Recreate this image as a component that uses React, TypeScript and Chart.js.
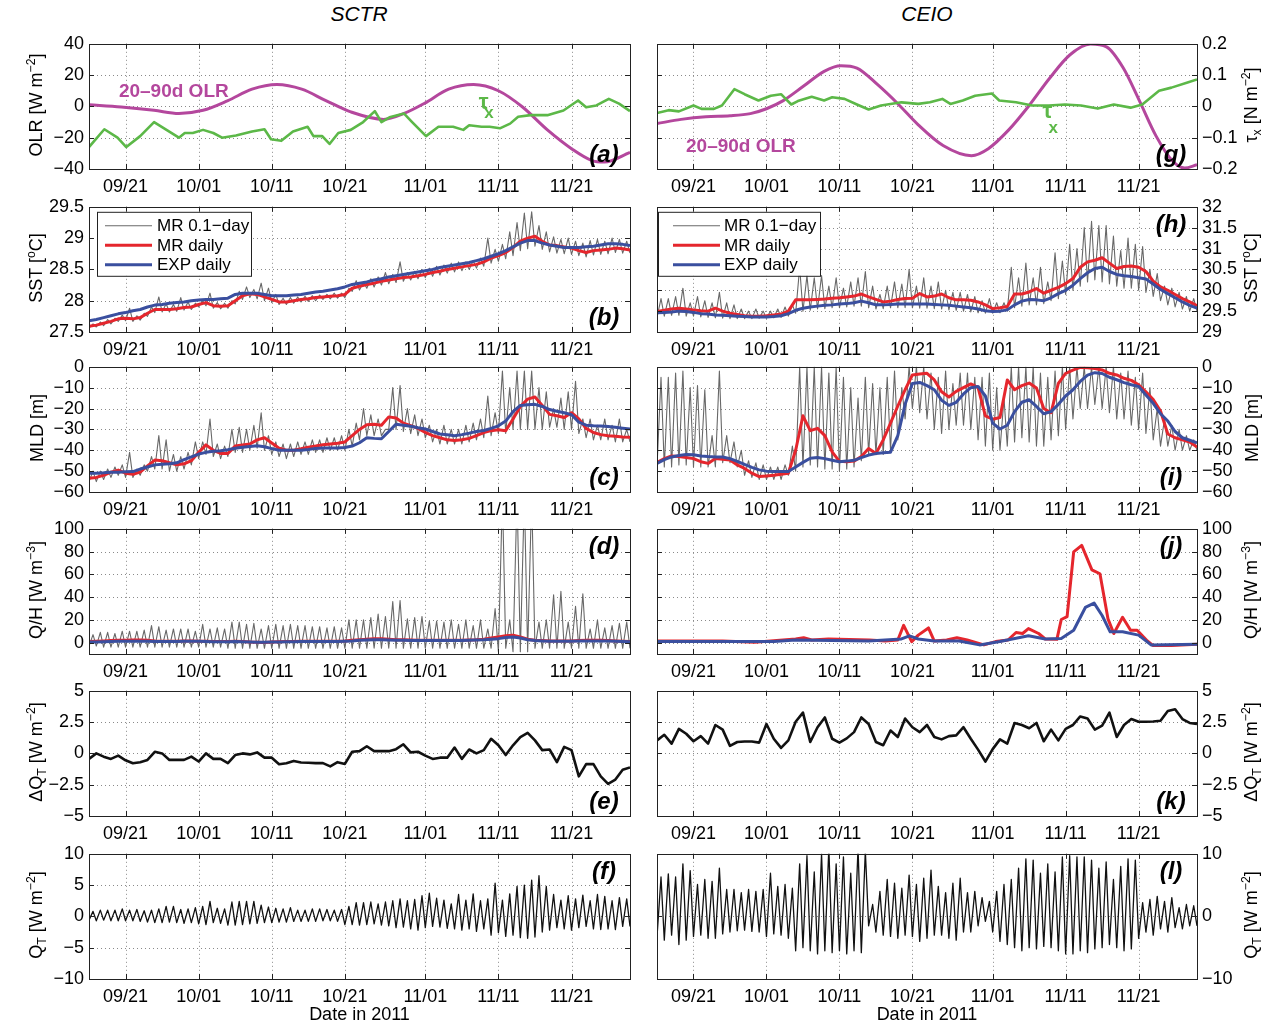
import React, { useEffect, useRef } from 'react';
import { Chart, registerables } from 'chart.js';
Chart.register(...registerables);

const FONT = '"Liberation Sans", Arial, Helvetica, sans-serif';
const RED = '#e5262d';
const BLUE = '#3a4f9f';
const GRAY = '#686868';
const MAGENTA = '#b4479d';
const GREEN = '#5cb848';
const BLACK = '#111111';

const DAY0 = 16;
const DAY1 = 90;
const DATE_TICKS = [21, 31, 41, 51, 62, 72, 82];
const DATE_LABELS = ['09/21', '10/01', '10/11', '10/21', '11/01', '11/11', '11/21'];
const LEGEND_LABELS = ['MR 0.1\u2212day', 'MR daily', 'EXP daily'];

// ---------- (a) SCTR OLR / tau_x ----------
const OLR_A_DAYS = [16, 20.4, 24.9, 28.3, 31.6, 35, 38.3, 41.7, 45.1, 48.4, 51.8, 56.3, 59.1, 61.9, 65.2, 68.6, 72, 75.3, 78.7, 82, 84.8, 86.5, 90];
const OLR_A = [1, -0.4, -2.5, -4.5, -2.5, 3.7, 11, 14, 11, 3.7, -3.5, -8.3, -4.5, 2, 11, 14, 10, -0.4, -15, -27, -34.6, -35.6, -29.4];
const TAU_A_DAYS = [16, 18.1, 19.9, 21.1, 23, 24.9, 26.6, 28.3, 29.1, 30.2, 31.6, 33, 34.2, 36.1, 38.3, 40, 40.9, 42.3, 43.9, 45.9, 46.7, 47.9, 48.9, 50.1, 51.8, 53.5, 55.1, 56, 57.1, 59.1, 60.2, 62.1, 63.8, 65.8, 67.2, 68, 69.7, 70.8, 72.2, 73.6, 74.7, 76.4, 78.7, 80.9, 82.9, 84, 85.4, 87.1, 88.5, 90];
const TAU_A = [-0.13, -0.073, -0.1, -0.13, -0.095, -0.05, -0.075, -0.1, -0.085, -0.085, -0.075, -0.085, -0.1, -0.093, -0.08, -0.073, -0.105, -0.11, -0.08, -0.065, -0.095, -0.095, -0.12, -0.085, -0.075, -0.05, -0.015, -0.05, -0.035, -0.023, -0.05, -0.095, -0.065, -0.065, -0.075, -0.06, -0.065, -0.065, -0.07, -0.055, -0.033, -0.028, -0.028, -0.013, 0.019, -0.003, 0.003, 0.024, 0.009, -0.015];

// ---------- (g) CEIO OLR / tau_x ----------
const OLR_G_DAYS = [16, 19.3, 22.7, 26, 28.8, 31, 33.3, 36.1, 38.9, 41.2, 43.4, 46.2, 49, 51.8, 55.2, 59.1, 61.4, 64.2, 67, 69.8, 72.6, 75.4, 77.6, 79.9, 82.1, 84.4, 86.6, 88.3, 90];
const OLR_G = [-11, -8.3, -6.6, -6, -4.6, -1.5, 3.7, 13, 22.4, 26, 24.5, 14, 1.7, -11.8, -25, -31.5, -27, -15, 0.6, 18, 33, 39.8, 38, 24.5, 3.7, -19, -34.6, -39.4, -37.3];
const TAU_G_DAYS = [16, 17.6, 19, 21, 22.1, 23.8, 24.9, 26.6, 28, 29.9, 31.6, 33, 34.4, 35.3, 37.2, 38.9, 40, 41.7, 43.4, 45, 46.7, 49.5, 51.8, 53.4, 55.1, 56.2, 57.9, 59.6, 61.9, 62.9, 65.2, 67.4, 69.7, 71.9, 74.1, 76.4, 78.6, 80.9, 82.5, 84.8, 86.5, 88.7, 90];
const TAU_G = [-0.021, -0.012, -0.016, 0.003, -0.008, -0.008, 0.003, 0.055, 0.039, 0.019, 0.034, 0.039, 0.006, 0.017, 0.031, 0.019, 0.029, 0.024, 0.006, -0.01, 0.003, 0.013, 0.008, 0.013, 0.024, 0.008, 0.019, 0.034, 0.041, 0.019, 0.013, 0.003, 0.003, 0.006, 0.003, -0.007, 0.006, -0.004, 0.006, 0.05, 0.06, 0.076, 0.086];

// ---------- (b) SCTR SST (daily values from 16 Sep) ----------
const SST_B_MR = [27.59, 27.61, 27.64, 27.67, 27.71, 27.72, 27.71, 27.73, 27.80, 27.86,
  27.86, 27.86, 27.87, 27.89, 27.90, 27.94, 27.97, 27.92, 27.91, 27.92,
  28.00, 28.08, 28.11, 28.10, 28.06, 28.02, 27.98, 27.98, 28.00, 28.02,
  28.03, 28.05, 28.06, 28.07, 28.08, 28.10, 28.20, 28.23, 28.26, 28.28,
  28.31, 28.33, 28.35, 28.37, 28.38, 28.40, 28.42, 28.45, 28.47, 28.50,
  28.52, 28.54, 28.56, 28.58, 28.62, 28.68, 28.72, 28.77, 28.85, 28.95,
  29.00, 29.03, 28.95, 28.89, 28.88, 28.86, 28.84, 28.80, 28.77, 28.80,
  28.81, 28.82, 28.84, 28.83, 28.81];
const SST_B_EXP = [27.68, 27.70, 27.73, 27.76, 27.79, 27.81, 27.84, 27.86, 27.90, 27.93,
  27.94, 27.96, 27.97, 27.98, 28.00, 28.01, 28.02, 28.02, 28.03, 28.04,
  28.10, 28.12, 28.12, 28.12, 28.10, 28.08, 28.08, 28.08, 28.09, 28.10,
  28.12, 28.14, 28.15, 28.17, 28.19, 28.22, 28.26, 28.28, 28.30, 28.33,
  28.35, 28.38, 28.40, 28.42, 28.44, 28.46, 28.48, 28.50, 28.53, 28.55,
  28.57, 28.59, 28.61, 28.64, 28.67, 28.71, 28.75, 28.80, 28.86, 28.92,
  28.96, 28.96, 28.92, 28.89, 28.87, 28.85, 28.85, 28.85, 28.86, 28.87,
  28.89, 28.91, 28.91, 28.90, 28.88];
const SST_B_PEAK = [27.63, 27.66, 27.70, 27.72, 27.77, 27.88, 27.76, 27.80, 27.90, 28.06,
  27.95, 27.94, 28.05, 27.98, 27.96, 28.00, 28.12, 27.97, 27.96, 28.00,
  28.15, 28.22, 28.18, 28.28, 28.20, 28.10, 28.04, 28.05, 28.06, 28.07,
  28.08, 28.09, 28.10, 28.12, 28.12, 28.20, 28.32, 28.30, 28.35, 28.38,
  28.45, 28.42, 28.62, 28.45, 28.47, 28.50, 28.52, 28.55, 28.57, 28.60,
  28.62, 28.62, 28.64, 28.68, 29.00, 28.82, 28.90, 29.10, 29.25, 29.40,
  29.42, 29.20, 29.10, 29.02, 28.98, 29.00, 28.95, 28.92, 28.96, 28.98,
  28.95, 29.00, 28.98, 28.95];
const SST_B_TROUGH = [27.56, 27.58, 27.60, 27.63, 27.67, 27.68, 27.67, 27.69, 27.75, 27.81,
  27.82, 27.82, 27.83, 27.85, 27.86, 27.90, 27.92, 27.88, 27.87, 27.88,
  27.95, 28.02, 28.05, 28.03, 28.00, 27.97, 27.94, 27.94, 27.96, 27.98,
  27.99, 28.00, 28.02, 28.03, 28.04, 28.05, 28.15, 28.17, 28.20, 28.22,
  28.25, 28.27, 28.29, 28.31, 28.33, 28.35, 28.37, 28.39, 28.41, 28.44,
  28.46, 28.48, 28.50, 28.52, 28.55, 28.60, 28.63, 28.67, 28.72, 28.80,
  28.83, 28.87, 28.82, 28.78, 28.76, 28.75, 28.74, 28.72, 28.70, 28.73,
  28.74, 28.75, 28.77, 28.76];

// ---------- (h) CEIO SST ----------
const SST_H_MR = [29.49, 29.52, 29.55, 29.57, 29.55, 29.53, 29.51, 29.50, 29.57, 29.50,
  29.45, 29.42, 29.39, 29.38, 29.38, 29.39, 29.41, 29.43, 29.50, 29.77,
  29.77, 29.77, 29.78, 29.79, 29.81, 29.82, 29.84, 29.86, 29.91, 29.84,
  29.78, 29.72, 29.74, 29.78, 29.80, 29.81, 29.92, 29.84, 29.86, 29.91,
  29.82, 29.77, 29.77, 29.76, 29.72, 29.65, 29.56, 29.58, 29.61, 29.91,
  29.91, 29.96, 30.04, 29.93, 30.00, 30.07, 30.16, 30.28, 30.55, 30.68,
  30.72, 30.78, 30.65, 30.52, 30.57, 30.58, 30.55, 30.45, 30.22, 30.08,
  30.00, 29.90, 29.80, 29.72, 29.63];
const SST_H_EXP = [29.46, 29.47, 29.48, 29.50, 29.49, 29.47, 29.44, 29.43, 29.41, 29.40,
  29.39, 29.38, 29.37, 29.36, 29.36, 29.36, 29.37, 29.39, 29.44, 29.52,
  29.57, 29.60, 29.62, 29.64, 29.65, 29.67, 29.68, 29.70, 29.74, 29.70,
  29.65, 29.65, 29.66, 29.67, 29.67, 29.67, 29.67, 29.67, 29.66, 29.65,
  29.64, 29.62, 29.60, 29.58, 29.55, 29.51, 29.49, 29.50, 29.53, 29.65,
  29.74, 29.78, 29.77, 29.75, 29.82, 29.92, 30.00, 30.12, 30.28, 30.42,
  30.52, 30.55, 30.45, 30.38, 30.35, 30.33, 30.30, 30.27, 30.15, 30.02,
  29.92, 29.82, 29.72, 29.64, 29.57];
const SST_H_PEAK = [29.80, 29.80, 29.85, 30.05, 29.70, 29.85, 29.75, 29.70, 29.95, 29.70,
  29.65, 29.55, 29.50, 29.55, 29.50, 29.50, 29.55, 29.60, 29.65, 30.55,
  30.35, 30.30, 30.35, 30.10, 30.30, 30.05, 30.20, 30.30, 30.45, 30.10,
  29.90, 30.10, 30.20, 30.15, 30.50, 30.10, 30.30, 30.10, 30.20, 30.00,
  29.95, 29.95, 29.90, 29.85, 29.75, 29.80, 29.70, 29.70, 30.55, 30.30,
  30.65, 30.30, 30.55, 30.20, 30.90, 30.70, 31.10, 31.00, 31.50, 31.65,
  31.55, 31.55, 31.30, 30.95, 31.25, 31.10, 31.05, 30.50, 30.40, 30.10,
  30.05, 29.95, 29.85, 29.80];
const SST_H_TROUGH = [29.35, 29.38, 29.40, 29.40, 29.38, 29.38, 29.36, 29.35, 29.34, 29.33,
  29.32, 29.32, 29.32, 29.32, 29.33, 29.33, 29.34, 29.35, 29.38, 29.45,
  29.50, 29.52, 29.55, 29.56, 29.58, 29.58, 29.60, 29.62, 29.62, 29.58,
  29.55, 29.56, 29.58, 29.58, 29.58, 29.58, 29.57, 29.57, 29.56, 29.55,
  29.53, 29.52, 29.50, 29.48, 29.46, 29.45, 29.45, 29.46, 29.50, 29.58,
  29.62, 29.65, 29.65, 29.68, 29.75, 29.80, 29.90, 30.00, 30.10, 30.20,
  30.25, 30.20, 30.15, 30.10, 30.05, 30.05, 30.00, 29.95, 29.85, 29.75,
  29.65, 29.60, 29.55, 29.50];

// ---------- (c) SCTR MLD ----------
const MLD_C_MR = [-53.4, -53, -52, -50.5, -49.5, -51, -51.5, -50.5, -47.5, -44.7,
  -45, -46, -47, -46.5, -45, -41, -37.4, -40, -41.5, -41.5,
  -38, -37.5, -37, -35, -34, -36.5, -39, -40, -40, -39.3,
  -38.5, -38, -37.4, -37, -36.6, -36, -33, -30, -27.8, -27.5,
  -28, -24, -24.5, -27, -28.2, -29.5, -31.4, -33, -34, -35,
  -35.3, -35, -34.3, -33, -31.5, -30.6, -30.2, -30.6, -25, -19,
  -15.5, -14.5, -18.5, -22.8, -23.5, -24.3, -22, -25, -29.5, -31.5,
  -32.5, -33, -33.3, -33.6, -33.8];
const MLD_C_EXP = [-51, -51, -50.8, -50.5, -50.5, -50.3, -50.2, -49, -48, -47,
  -46.7, -46.5, -46, -44.5, -43.2, -41.8, -41, -40.5, -40.2, -39.7,
  -39, -38.6, -38.2, -37.8, -38.3, -39.2, -40, -40, -40, -40,
  -39.6, -39.1, -38.9, -38.9, -38.9, -38.7, -38, -36.4, -34, -34.3,
  -34.5, -31, -27.5, -28, -28.5, -29.2, -29.8, -31, -32.2, -32.6,
  -33, -32.5, -31.8, -31, -30.5, -29.5, -28.3, -26, -21.5, -18.5,
  -18.2, -18, -19, -20.5, -21.3, -22, -23, -26.5, -28, -28.3,
  -28.4, -28.6, -29, -29.4, -29.8];
const MLD_C_PEAK = [-50, -50, -49, -48, -47, -41, -49, -47, -43, -33,
  -35, -42, -43, -41, -36, -36, -25, -37, -38, -30,
  -29, -30, -28, -22, -33, -36, -37, -37, -36, -36,
  -35, -35, -34, -34, -33, -30, -27, -20, -23, -25,
  -30, -10, -9, -20, -23, -25, -28, -30, -28, -30,
  -30, -28, -27, -25, -14, -22, -2, -10, -2, -2,
  -2, -10, -12, -20, -15, -12, -7, -25, -25, -28,
  -25, -28, -25, -30];
const MLD_C_TROUGH = [-55, -55, -54, -53, -52, -53, -53, -52, -50, -49,
  -49, -50, -50, -49, -47, -44, -42, -43, -44, -43,
  -41, -41, -40, -39, -40, -42, -43, -44, -43, -42,
  -42, -41, -41, -40, -40, -40, -38, -35, -33, -33,
  -33, -30, -30, -31, -32, -33, -34, -36, -37, -37,
  -37, -37, -36, -35, -34, -33, -32, -32, -30, -30,
  -30, -30, -30, -29, -29, -30, -30, -32, -34, -35,
  -35, -35, -36, -36];

// ---------- (i) CEIO MLD ----------
const MLD_I_MR = [-45.8, -44, -42.7, -43, -43.5, -44, -45.5, -46.3, -44, -44.3,
  -44.7, -47, -48.7, -51, -52.6, -52.3, -52, -51.5, -51, -40,
  -23.5, -30.6, -29.5, -33, -40.8, -45.3, -45.5, -45.2, -43, -39.2,
  -41.6, -35, -27, -18.8, -11, -3.9, -3.5, -3.1, -6.3, -12,
  -14.5, -11.8, -10, -8.2, -10, -23.5, -25.1, -24.3, -6.3, -11,
  -9, -7.8, -10.2, -20, -22, -8, -3.1, -1.6, -0.3, -0.5,
  -0.8, -1.5, -3.1, -3.9, -5.5, -6.5, -8.6, -12, -15.7, -21.2,
  -32.2, -34, -35, -36.1, -38.5];
const MLD_I_EXP = [-46.3, -44.5, -43.2, -42.5, -42, -42.2, -42.7, -43, -43.2, -43.2,
  -44, -45.3, -46.8, -48.2, -49.4, -50, -50.2, -50.2, -50.2, -48,
  -45.8, -43.8, -43.5, -44, -44.8, -45.5, -45.2, -44.8, -43.5, -42.3,
  -41.6, -41.2, -40.9, -33, -18, -8, -7.5, -9, -11, -16,
  -18.5, -17, -13, -10, -9.4, -14, -27, -29.8, -28, -21.5,
  -17, -15.8, -19, -22.5, -21.5, -18, -14, -11, -7, -4,
  -2.8, -3.2, -5, -6.2, -7.6, -8.6, -9.4, -13.5, -17.5, -22.5,
  -26, -31, -34, -35.2, -36.4];
const MLD_I_PEAK = [-5, -5, -3, -2, -10, -9, -11, -33, -2, -33,
  -36, -40, -45, -46, -47, -48, -48, -47, -38, 0,
  0, 0, 0, -3, 0, -5, -10, -15, -5, -8,
  -10, -5, -2, -10, 0, 0, 0, -3, -5, -2,
  -8, -3, -3, -5, -5, -3, -10, -15, 0, 0,
  0, 0, -3, -5, -2, 0, 0, 0, 0, 0,
  0, 0, 0, -3, -2, -5, -3, -10, -20, -25,
  -28, -30, -33, -35];
const MLD_I_TROUGH = [-48, -48, -48, -47, -47, -48, -48, -48, -48, -46,
  -46, -48, -52, -53, -54, -54, -54, -54, -52, -50,
  -48, -47, -48, -49, -49, -50, -49, -48, -45, -42,
  -42, -42, -40, -35, -25, -20, -22, -25, -30, -32,
  -30, -28, -28, -30, -35, -38, -40, -40, -38, -36,
  -34, -36, -38, -38, -35, -33, -30, -25, -20, -20,
  -18, -20, -22, -25, -25, -28, -30, -32, -35, -38,
  -38, -40, -40, -40];

// ---------- (d) SCTR Q/H ----------
const QH_D_MR = [1, 1.2, 1.5, 1.8, 2, 2, 2.2, 2.4, 2, 1.5,
  1.2, 1.2, 1.3, 1.5, 1.5, 1.3, 1.2, 1, 1, 1,
  1.2, 1, 0.5, 0.3, 0.2, 0.5, 0.8, 1, 1, 1.2,
  1.3, 1.3, 1.2, 1.2, 1.2, 1.5, 2, 2.5, 3, 3.5,
  3.5, 3, 2.5, 2.5, 2.2, 2, 2, 2, 2, 2,
  2, 2, 2.2, 2.5, 3, 4, 5, 6, 6.5, 5,
  3, 2, 1.8, 1.5, 1.5, 1.5, 1.5, 1.8, 2, 2,
  2, 1.8, 1.5, 1.2, 1];
const QH_D_EXP = [0.5, 0.6, 0.8, 1, 1.2, 1.3, 1.3, 1.3, 1.2, 1,
  1, 1, 1, 1.1, 1.2, 1.1, 1, 0.8, 0.8, 0.8,
  0.9, 0.8, 0.5, 0.3, 0.3, 0.5, 0.6, 0.8, 0.8, 1,
  1, 1, 1, 1, 1, 1.2, 1.5, 2, 2.2, 2.5,
  2.5, 2.2, 2, 2, 1.8, 1.8, 1.8, 1.8, 1.8, 1.8,
  1.8, 1.8, 2, 2.2, 2.5, 3, 3.5, 4.5, 5, 4,
  2.5, 1.8, 1.5, 1.3, 1.3, 1.3, 1.3, 1.5, 1.5, 1.5,
  1.5, 1.5, 1.3, 1, 0.8];
const QH_D_PEAK = [7, 9, 9, 8, 10, 10, 10, 11, 15, 14,
  11, 12, 12, 12, 10, 16, 12, 13, 12, 18,
  18, 16, 17, 12, 15, 16, 15, 16, 15, 15,
  14, 14, 13, 14, 13, 20, 20, 20, 22, 25,
  23, 36, 37, 21, 22, 23, 19, 19, 18, 20,
  16, 20, 15, 20, 12, 30, 130, 20, 130, 130,
  130, 18, 20, 42, 45, 18, 32, 43, 12, 20,
  13, 15, 17, 18];
const QH_D_TROUGH = [-3, -3, -4, -4, -4, -4, -4, -4, -4, -4,
  -4, -4, -4, -4, -4, -4, -4, -4, -4, -5,
  -5, -5, -5, -5, -5, -5, -5, -5, -5, -5,
  -5, -5, -5, -5, -5, -5, -5, -5, -5, -5,
  -5, -5, -5, -5, -5, -5, -5, -5, -5, -5,
  -5, -5, -5, -5, -5, -5, -8, -5, -8, -8,
  -8, -5, -5, -5, -5, -5, -5, -5, -5, -5,
  -5, -5, -5, -5];

// ---------- (j) CEIO Q/H ----------
const QH_J_MR_DAYS = [16, 25, 29.4, 35, 36.1, 37.2, 39.5, 45.1, 47.3, 49, 49.8, 50.9, 51.8, 53.2, 54, 55.7, 57.1, 58.5, 60.8, 62.4, 64.1, 65.2, 66.1, 66.9, 68.3, 69.2, 70.8, 71.4, 72.2, 73.1, 74.2, 75.6, 76.7, 77.8, 78.6, 79.8, 80.9, 81.8, 83.2, 84, 86.5, 90];
const QH_J_MR = [1.4, 1.4, 0.3, 3.2, 4.3, 2.3, 3.2, 2.3, 1.4, 2.3, 15.2, 0.9, 6.6, 12.9, 1.4, 2.3, 4.3, 2.3, -2, 0.9, 2.3, 8.9, 8, 12.3, 8, 3.2, 2.9, 20.3, 22.9, 79.7, 85.4, 63.9, 60.5, 20.9, 8, 22.3, 10.9, 10.9, 1.4, -2.6, -2.6, -1.4];
const QH_J_EXP_DAYS = [16, 32, 35, 45, 49.5, 50.6, 51.8, 54, 57.4, 60.2, 63, 66.9, 69.2, 71.4, 73.1, 74.7, 75.9, 77, 78.1, 79.8, 82, 83.7, 90];
const QH_J_EXP = [0.9, 0.9, 2.3, 1.4, 3.2, 6, 3.2, 1.4, 1.4, -2, 0.9, 6, 3.2, 3.7, 10.9, 30.9, 34.7, 23.8, 9.5, 9.5, 6.6, -2, -1.4];

// ---------- (e), (k) delta Q_T (daily) ----------
const DQ_E = [-0.44, 0, -0.26, -0.44, -0.18, -0.55, -0.78, -0.7, -0.52, 0.13,
  0, -0.52, -0.52, -0.52, -0.26, -0.65, 0, -0.44, -0.44, -0.78,
  -0.13, 0, -0.08, 0.08, -0.34, -0.34, -0.86, -0.78, -0.6, -0.73,
  -0.75, -0.78, -0.78, -1.04, -0.7, -0.84, 0.13, 0.18, 0.57, 0.18,
  0.18, 0.18, 0.34, 0.73, 0.08, 0.13, -0.18, -0.44, -0.34, -0.34,
  0.47, -0.44, 0.31, 0, 0.26, 1.17, 0.65, -0.13, 0.65, 1.3,
  1.64, 1.04, 0.26, 0.31, -0.7, 0.52, 0.26, -1.83, -0.86, -0.86,
  -1.83, -2.43, -2.09, -1.3, -1.12];
const DQ_K = [1.04, 1.49, 0.78, 1.96, 1.57, 0.97, 1.38, 0.78, 2.27, 1.9,
  0.6, 0.91, 0.95, 0.95, 0.86, 2.35, 1.17, 0.44, 1.04, 2.53,
  3.26, 0.91, 2.09, 2.87, 1.17, 0.86, 1.2, 1.7, 2.87, 2.35,
  0.91, 0.65, 1.83, 1.31, 2.79, 2.09, 1.7, 2.27, 1.31, 1.12,
  1.38, 1.44, 2.09, 1.17, 0.3, -0.65, 0.34, 1.12, 0.78, 2.43,
  2.27, 2.01, 2.43, 0.97, 1.9, 1.04, 1.96, 2.27, 2.95, 2.79,
  1.9, 2.22, 3.26, 1.31, 2.27, 2.74, 2.53, 2.53, 2.55, 2.61,
  3.39, 3.52, 2.74, 2.43, 2.35];

// ---------- (f), (l) Q_T diurnal extremes ----------
const QT_F_PEAK = [0.8, 1.0, 1.0, 1.0, 1.2, 1.0, 1.1, 0.9, 1.0, 1.2,
  1.6, 1.6, 1.1, 1.2, 1.4, 1.6, 2.4, 1.3, 1.2, 2.3,
  2.4, 2.4, 2.4, 1.8, 1.5, 1.3, 1.2, 1.4, 1.0, 1.0,
  1.2, 1.2, 1.1, 1.0, 1.1, 1.6, 2.2, 2.2, 2.3, 2.0,
  2.3, 2.5, 2.8, 2.5, 2.7, 3.3, 3.7, 2.9, 2.6, 2.0,
  3.5, 2.6, 3.6, 2.5, 2.8, 5.3, 2.6, 3.6, 4.8, 5.0,
  5.8, 6.5, 4.8, 3.5, 2.6, 3.3, 2.8, 3.4, 2.5, 3.5,
  3.2, 2.5, 3.0, 2.8];
const QT_F_TROUGH = [-0.6, -0.7, -0.6, -0.7, -0.7, -0.7, -0.7, -0.8, -0.9, -1.0,
  -1.0, -0.9, -1.0, -1.1, -1.0, -1.2, -1.3, -1.0, -1.1, -1.4,
  -1.4, -1.3, -1.2, -1.1, -1.0, -1.0, -0.9, -0.9, -0.8, -0.8,
  -0.8, -0.8, -0.7, -0.7, -0.8, -1.3, -1.3, -1.4, -1.3, -1.2,
  -1.4, -1.5, -1.8, -1.7, -2.0, -2.2, -1.8, -1.6, -1.7, -1.9,
  -2.0, -2.2, -2.0, -2.4, -2.0, -3.0, -2.6, -3.2, -3.0, -3.4,
  -3.5, -3.3, -2.5, -2.2, -1.8, -2.0, -2.2, -1.8, -1.6, -2.0,
  -2.1, -2.0, -2.1, -1.6];
const QT_L_PEAK = [6.3, 6.8, 6.3, 8.4, 7.3, 5.1, 5.9, 5.6, 7.7, 4.3,
  4.3, 3.8, 4.3, 4.0, 4.3, 6.9, 4.8, 5.1, 4.5, 8.4,
  9.7, 7.1, 10.0, 11, 8.4, 9.5, 6.9, 11, 10.5, 1.9,
  4.0, 5.9, 5.3, 4.5, 6.6, 5.1, 6.1, 7.4, 4.8, 3.8,
  5.3, 6.1, 3.8, 4.0, 3.0, 2.4, 4.0, 5.1, 5.9, 7.7,
  9.2, 9.0, 6.9, 8.4, 7.1, 9.5, 9.7, 9.5, 9.5, 9.0,
  7.7, 8.7, 5.9, 8.0, 9.2, 9.0, 2.2, 2.7, 3.2, 2.4,
  3.0, 1.4, 1.9, 1.7];
const QT_L_TROUGH = [-3.3, -3.8, -3.0, -4.5, -3.8, -3.2, -3.0, -3.5, -3.5, -2.8,
  -2.5, -2.3, -2.2, -2.4, -2.5, -3.2, -2.8, -3.0, -3.5, -5.5,
  -5.0, -5.5, -6.0, -5.5, -5.8, -5.5, -6.0, -5.5, -5.8, -1.5,
  -2.5, -3.0, -3.2, -3.5, -3.0, -3.2, -4.0, -3.5, -3.0, -3.0,
  -3.5, -3.8, -2.5, -2.5, -1.5, -0.8, -2.5, -4.0, -4.5, -5.0,
  -5.5, -5.0, -5.2, -4.8, -5.0, -5.5, -6.0, -6.0, -5.5, -5.8,
  -5.2, -5.0, -4.5, -5.0, -5.5, -5.2, -3.5, -2.5, -3.0, -2.0,
  -2.5, -1.8, -2.0, -1.5];

// ---------- tick values ----------
const OLR_TICKS = [-40, -20, 0, 20, 40];
const TAU_TICKS = [-0.2, -0.1, 0, 0.1, 0.2];
const SST_B_TICKS = [27.5, 28, 28.5, 29, 29.5];
const SST_H_TICKS = [29, 29.5, 30, 30.5, 31, 31.5, 32];
const MLD_TICKS = [-60, -50, -40, -30, -20, -10, 0];
const QH_TICKS = [0, 20, 40, 60, 80, 100];
const DQ_TICKS = [-5, -2.5, 0, 2.5, 5];
const QT_F_TICKS = [-10, -5, 0, 5, 10];
const QT_L_TICKS = [-10, 0, 10];

// ---------- helpers ----------
type Pt = { x: number; y: number };
const pts = (days: number[], vals: number[]): Pt[] => vals.map((v, i) => ({ x: days[i], y: v }));
const daily = (vals: number[]): Pt[] => vals.map((v, i) => ({ x: DAY0 + i, y: v }));
const diurnal = (peaks: number[], troughs: number[]): Pt[] => {
  const out: Pt[] = [];
  for (let i = 0; i < peaks.length; i++) {
    out.push({ x: DAY0 + i, y: troughs[i] });
    out.push({ x: DAY0 + i + 0.55, y: peaks[i] });
  }
  out.push({ x: DAY1, y: troughs[troughs.length - 1] });
  return out;
};
const fmt = (v: number) => (v < 0 ? '\u2212' : '') + String(Math.abs(Math.round(v * 1000) / 1000));

type Series = { data: Pt[]; color: string; width: number; axis?: string; smooth?: boolean; order: number };
type Note = { text: string; x: number; y: number; color: string; font: string };
type Axis = { min: number; max: number; ticks: number[]; show: boolean };
type Panel = {
  key: string; col: 0 | 1; row: number; axes: Record<string, Axis>; gridAxis: string;
  series: Series[]; letter: string; letterPos: 'tr' | 'br'; notes?: Note[]; legend?: boolean; title: React.ReactNode;
};

const PANEL_TOPS = [40, 203, 363, 525, 687, 850];
const PANEL_H = 129;
const PAD_TOP = 12;
const X_AXIS_H = 30;

const Sup = ({ children }: { children: React.ReactNode }) => (
  <span style={{ fontSize: '0.68em', position: 'relative', top: '-0.55em' }}>{children}</span>
);
const Sub = ({ children }: { children: React.ReactNode }) => (
  <span style={{ fontSize: '0.68em', position: 'relative', top: '0.3em' }}>{children}</span>
);

const diurnalSet = (peaks: number[], troughs: number[]): Series => ({ data: diurnal(peaks, troughs), color: GRAY, width: 1.1, order: 3 });
const redSet = (d: Pt[]): Series => ({ data: d, color: RED, width: 3, order: 2 });
const blueSet = (d: Pt[]): Series => ({ data: d, color: BLUE, width: 3, order: 1 });

const BOLD18 = `bold 19px ${FONT}`;
const TAU_FONT = `bold 22px ${FONT}`;
const SUBX_FONT = `bold 17px ${FONT}`;

const PANELS: Panel[] = [
  {
    key: 'a', col: 0, row: 0, gridAxis: 'y',
    axes: { y: { min: -40, max: 40, ticks: OLR_TICKS, show: true }, y2: { min: -0.2, max: 0.2, ticks: TAU_TICKS, show: false } },
    series: [
      { data: pts(TAU_A_DAYS, TAU_A), color: GREEN, width: 2.6, axis: 'y2', order: 1 },
      { data: pts(OLR_A_DAYS, OLR_A), color: MAGENTA, width: 3, smooth: true, order: 2 },
    ],
    letter: '(a)', letterPos: 'br',
    notes: [
      { text: '20\u201390d OLR', x: 27.6, y: 9.4, color: MAGENTA, font: BOLD18 },
      { text: '\u03c4', x: 70.0, y: 2.5, color: GREEN, font: TAU_FONT },
      { text: 'x', x: 70.7, y: -4.5, color: GREEN, font: SUBX_FONT },
    ],
    title: <>OLR [W m<Sup>{'\u2212'}2</Sup>]</>,
  },
  {
    key: 'g', col: 1, row: 0, gridAxis: 'y2',
    axes: { y: { min: -40, max: 40, ticks: OLR_TICKS, show: false }, y2: { min: -0.2, max: 0.2, ticks: TAU_TICKS, show: true } },
    series: [
      { data: pts(TAU_G_DAYS, TAU_G), color: GREEN, width: 2.6, axis: 'y2', order: 1 },
      { data: pts(OLR_G_DAYS, OLR_G), color: MAGENTA, width: 3, smooth: true, order: 2 },
    ],
    letter: '(g)', letterPos: 'br',
    notes: [
      { text: '20\u201390d OLR', x: 27.5, y: -25.6, color: MAGENTA, font: BOLD18 },
      { text: '\u03c4', x: 69.5, y: -3.8, color: GREEN, font: TAU_FONT },
      { text: 'x', x: 70.3, y: -13.8, color: GREEN, font: SUBX_FONT },
    ],
    title: <>{'\u03c4'}<Sub>x</Sub> [N m<Sup>{'\u2212'}2</Sup>]</>,
  },
  {
    key: 'b', col: 0, row: 1, gridAxis: 'y',
    axes: { y: { min: 27.5, max: 29.5, ticks: SST_B_TICKS, show: true } },
    series: [diurnalSet(SST_B_PEAK, SST_B_TROUGH), redSet(daily(SST_B_MR)), blueSet(daily(SST_B_EXP))],
    letter: '(b)', letterPos: 'br', legend: true,
    title: <>SST [<Sup>o</Sup>C]</>,
  },
  {
    key: 'h', col: 1, row: 1, gridAxis: 'y',
    axes: { y: { min: 29, max: 32, ticks: SST_H_TICKS, show: true } },
    series: [diurnalSet(SST_H_PEAK, SST_H_TROUGH), redSet(daily(SST_H_MR)), blueSet(daily(SST_H_EXP))],
    letter: '(h)', letterPos: 'tr', legend: true,
    title: <>SST [<Sup>o</Sup>C]</>,
  },
  {
    key: 'c', col: 0, row: 2, gridAxis: 'y',
    axes: { y: { min: -60, max: 0, ticks: MLD_TICKS, show: true } },
    series: [diurnalSet(MLD_C_PEAK, MLD_C_TROUGH), redSet(daily(MLD_C_MR)), blueSet(daily(MLD_C_EXP))],
    letter: '(c)', letterPos: 'br',
    title: <>MLD [m]</>,
  },
  {
    key: 'i', col: 1, row: 2, gridAxis: 'y',
    axes: { y: { min: -60, max: 0, ticks: MLD_TICKS, show: true } },
    series: [diurnalSet(MLD_I_PEAK, MLD_I_TROUGH), redSet(daily(MLD_I_MR)), blueSet(daily(MLD_I_EXP))],
    letter: '(i)', letterPos: 'br',
    title: <>MLD [m]</>,
  },
  {
    key: 'd', col: 0, row: 3, gridAxis: 'y',
    axes: { y: { min: -10, max: 100, ticks: QH_TICKS, show: true } },
    series: [diurnalSet(QH_D_PEAK, QH_D_TROUGH), redSet(daily(QH_D_MR)), blueSet(daily(QH_D_EXP))],
    letter: '(d)', letterPos: 'tr',
    title: <>Q/H [W m<Sup>{'\u2212'}3</Sup>]</>,
  },
  {
    key: 'j', col: 1, row: 3, gridAxis: 'y',
    axes: { y: { min: -10, max: 100, ticks: QH_TICKS, show: true } },
    series: [redSet(pts(QH_J_MR_DAYS, QH_J_MR)), blueSet(pts(QH_J_EXP_DAYS, QH_J_EXP))],
    letter: '(j)', letterPos: 'tr',
    title: <>Q/H [W m<Sup>{'\u2212'}3</Sup>]</>,
  },
  {
    key: 'e', col: 0, row: 4, gridAxis: 'y',
    axes: { y: { min: -5, max: 5, ticks: DQ_TICKS, show: true } },
    series: [{ data: daily(DQ_E), color: BLACK, width: 2.6, order: 1 }],
    letter: '(e)', letterPos: 'br',
    title: <>{'\u0394'}Q<Sub>T</Sub> [W m<Sup>{'\u2212'}2</Sup>]</>,
  },
  {
    key: 'k', col: 1, row: 4, gridAxis: 'y',
    axes: { y: { min: -5, max: 5, ticks: DQ_TICKS, show: true } },
    series: [{ data: daily(DQ_K), color: BLACK, width: 2.6, order: 1 }],
    letter: '(k)', letterPos: 'br',
    title: <>{'\u0394'}Q<Sub>T</Sub> [W m<Sup>{'\u2212'}2</Sup>]</>,
  },
  {
    key: 'f', col: 0, row: 5, gridAxis: 'y',
    axes: { y: { min: -10, max: 10, ticks: QT_F_TICKS, show: true } },
    series: [{ data: diurnal(QT_F_PEAK, QT_F_TROUGH), color: BLACK, width: 1.3, order: 1 }],
    letter: '(f)', letterPos: 'tr',
    title: <>Q<Sub>T</Sub> [W m<Sup>{'\u2212'}2</Sup>]</>,
  },
  {
    key: 'l', col: 1, row: 5, gridAxis: 'y',
    axes: { y: { min: -10, max: 10, ticks: QT_L_TICKS, show: true } },
    series: [{ data: diurnal(QT_L_PEAK, QT_L_TROUGH), color: BLACK, width: 1.3, order: 1 }],
    letter: '(l)', letterPos: 'tr',
    title: <>Q<Sub>T</Sub> [W m<Sup>{'\u2212'}2</Sup>]</>,
  },
];

function makeDecor(p: Panel) {
  return {
    id: 'decor_' + p.key,
    beforeDatasetsDraw(chart: any) {
      const { ctx, chartArea: a } = chart;
      const xs = chart.scales.x;
      const ys = chart.scales[p.gridAxis];
      const ax = p.axes[p.gridAxis];
      ctx.save();
      ctx.strokeStyle = '#8a8a8a';
      ctx.lineWidth = 1;
      ctx.setLineDash([1, 3]);
      ctx.beginPath();
      for (const d of DATE_TICKS) {
        const px = Math.round(xs.getPixelForValue(d)) + 0.5;
        ctx.moveTo(px, a.top);
        ctx.lineTo(px, a.bottom);
      }
      for (const v of ax.ticks) {
        if (v <= ax.min || v >= ax.max) continue;
        const py = Math.round(ys.getPixelForValue(v)) + 0.5;
        ctx.moveTo(a.left, py);
        ctx.lineTo(a.right, py);
      }
      ctx.stroke();
      ctx.restore();
    },
    afterDatasetsDraw(chart: any) {
      const { ctx, chartArea: a } = chart;
      const xs = chart.scales.x;
      const ys = chart.scales[p.gridAxis];
      const ax = p.axes[p.gridAxis];
      ctx.save();
      ctx.strokeStyle = '#222';
      ctx.lineWidth = 1;
      ctx.setLineDash([]);
      ctx.strokeRect(Math.round(a.left) + 0.5, Math.round(a.top) + 0.5, Math.round(a.right - a.left), Math.round(a.bottom - a.top));
      ctx.beginPath();
      for (const d of DATE_TICKS) {
        const px = Math.round(xs.getPixelForValue(d)) + 0.5;
        ctx.moveTo(px, a.top); ctx.lineTo(px, a.top + 5);
        ctx.moveTo(px, a.bottom); ctx.lineTo(px, a.bottom - 5);
      }
      for (const v of ax.ticks) {
        if (v <= ax.min || v >= ax.max) continue;
        const py = Math.round(ys.getPixelForValue(v)) + 0.5;
        ctx.moveTo(a.left, py); ctx.lineTo(a.left + 5, py);
        ctx.moveTo(a.right, py); ctx.lineTo(a.right - 5, py);
      }
      ctx.stroke();
      ctx.textAlign = 'center';
      ctx.textBaseline = 'middle';
      for (const n of p.notes || []) {
        ctx.font = n.font;
        ctx.fillStyle = n.color;
        ctx.fillText(n.text, xs.getPixelForValue(n.x), chart.scales.y.getPixelForValue(n.y));
      }
      ctx.font = `italic bold 24px ${FONT}`;
      ctx.fillStyle = '#000';
      const ly = p.letterPos === 'br' ? a.bottom - 14 : a.top + 19;
      ctx.fillText(p.letter, a.right - 26, ly);
      if (p.legend) {
        const L = p.col === 0
          ? { bx: a.left + 8, bw: 154, lx0: a.left + 16, lx1: a.left + 63, tx: a.left + 68 }
          : { bx: a.left + 1, bw: 162, lx0: a.left + 16, lx1: a.left + 63, tx: a.left + 67 };
        const by = a.top + 5;
        const bh = 64;
        ctx.fillStyle = '#fff';
        ctx.fillRect(L.bx, by, L.bw, bh);
        ctx.strokeStyle = '#222';
        ctx.lineWidth = 1;
        ctx.strokeRect(Math.round(L.bx) + 0.5, by + 0.5, L.bw, bh);
        const rows: [string, string, number][] = [
          [LEGEND_LABELS[0], GRAY, 1.1],
          [LEGEND_LABELS[1], RED, 3],
          [LEGEND_LABELS[2], BLUE, 3],
        ];
        rows.forEach(([t, c, w], i) => {
          const y = by + 14 + i * 19.5;
          ctx.strokeStyle = c;
          ctx.lineWidth = w;
          ctx.beginPath();
          ctx.moveTo(L.lx0, y);
          ctx.lineTo(L.lx1, y);
          ctx.stroke();
          ctx.font = `17px ${FONT}`;
          ctx.fillStyle = '#000';
          ctx.textAlign = 'left';
          ctx.fillText(t, L.tx, y + 1);
        });
      }
      ctx.restore();
    },
  };
}

function PanelChart({ p }: { p: Panel }) {
  const ref = useRef<HTMLCanvasElement>(null);
  const left = p.col === 0;
  const width = left ? 640 : 641;
  const height = PAD_TOP + PANEL_H + X_AXIS_H;
  useEffect(() => {
    const canvas = ref.current;
    if (!canvas) return;
    const tickFont = { family: FONT, size: 18 };
    const scales: any = {
      x: {
        type: 'linear', min: DAY0, max: DAY1,
        afterBuildTicks: (s: any) => { s.ticks = DATE_TICKS.map((v) => ({ value: v })); },
        afterFit: (s: any) => { s.height = X_AXIS_H; },
        grid: { display: false, drawTicks: false },
        border: { display: false },
        ticks: {
          autoSkip: false, maxRotation: 0, minRotation: 0, padding: 7, color: '#000', font: tickFont,
          callback: (v: number) => { const i = DATE_TICKS.indexOf(v); return i >= 0 ? DATE_LABELS[i] : ''; },
        },
      },
    };
    for (const id of Object.keys(p.axes)) {
      const ax = p.axes[id];
      scales[id] = {
        type: 'linear', display: ax.show, position: left ? 'left' : 'right', min: ax.min, max: ax.max,
        afterBuildTicks: (s: any) => { s.ticks = ax.ticks.map((v) => ({ value: v })); },
        afterFit: (s: any) => { s.width = ax.show ? (left ? 89 : 84) : 0; },
        grid: { display: false, drawTicks: false },
        border: { display: false },
        ticks: { autoSkip: false, padding: 5, color: '#000', font: tickFont, callback: (v: number) => fmt(v) },
      };
    }
    const chart = new Chart(canvas, {
      type: 'line',
      data: {
        datasets: p.series.map((s) => ({
          data: s.data,
          borderColor: s.color,
          borderWidth: s.width,
          pointRadius: 0,
          fill: false,
          yAxisID: s.axis || 'y',
          tension: 0,
          cubicInterpolationMode: s.smooth ? 'monotone' : 'default',
          order: s.order,
          borderJoinStyle: 'round',
        })) as any,
      },
      options: {
        animation: false,
        responsive: false,
        maintainAspectRatio: false,
        devicePixelRatio: 1,
        layout: { autoPadding: false, padding: left ? { left: 0, right: 10, top: PAD_TOP, bottom: 0 } : { left: 17, right: 0, top: PAD_TOP, bottom: 0 } },
        plugins: { legend: { display: false }, tooltip: { enabled: false }, title: { display: false } },
        events: [],
        scales,
      } as any,
      plugins: [makeDecor(p)],
    });
    return () => chart.destroy();
  }, []);
  return (
    <canvas
      ref={ref}
      width={width}
      height={height}
      style={{ position: 'absolute', left: left ? 0 : 640, top: PANEL_TOPS[p.row] - PAD_TOP, width, height }}
    />
  );
}

const centerText = (x: number, y: number, extra: React.CSSProperties = {}): React.CSSProperties => ({
  position: 'absolute', left: x, top: y, transform: 'translate(-50%, -50%)', whiteSpace: 'nowrap', ...extra,
});

export default function App() {
  return (
    <div style={{ position: 'absolute', left: 0, top: 0, width: 1281, height: 1029, background: '#fff', overflow: 'hidden', fontFamily: FONT, color: '#000' }}>
      <div style={centerText(359, 14, { fontSize: 21, fontStyle: 'italic' })}>SCTR</div>
      <div style={centerText(927, 14, { fontSize: 21, fontStyle: 'italic' })}>CEIO</div>
      {PANELS.map((p) => <PanelChart key={p.key} p={p} />)}
      {PANELS.map((p) => (
        <div
          key={'t' + p.key}
          style={{
            position: 'absolute',
            left: p.col === 0 ? 37 : 1252,
            top: PANEL_TOPS[p.row] + PANEL_H / 2,
            transform: 'translate(-50%, -50%) rotate(-90deg)',
            whiteSpace: 'nowrap',
            fontSize: 18,
            lineHeight: '20px',
          }}
        >
          {p.title}
        </div>
      ))}
      <div style={centerText(359.5, 1014, { fontSize: 18 })}>Date in 2011</div>
      <div style={centerText(927, 1014, { fontSize: 18 })}>Date in 2011</div>
    </div>
  );
}
